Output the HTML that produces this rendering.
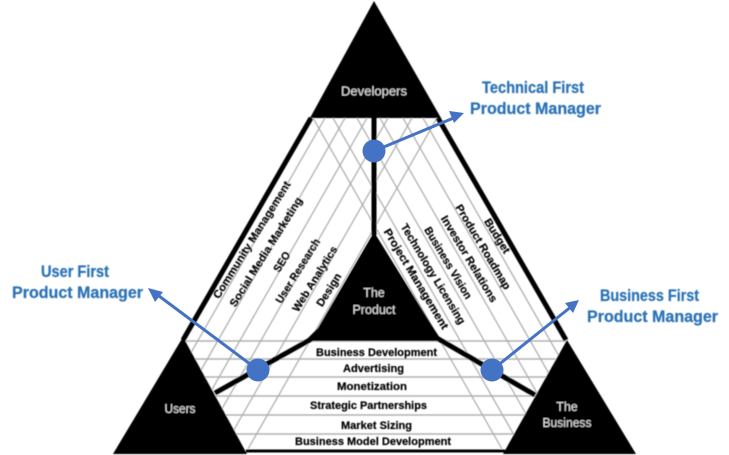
<!DOCTYPE html>
<html><head><meta charset="utf-8"><style>
html,body{margin:0;padding:0;background:#fff;width:729px;height:455px;overflow:hidden}
svg{display:block}
text{font-family:"Liberation Sans",sans-serif}
.k{font-weight:bold;font-size:11px;fill:#000;stroke:#000;stroke-width:.2;text-anchor:middle}
.w{font-size:12.5px;fill:#ddd;text-anchor:middle}
.b{font-weight:bold;font-size:16.5px;fill:#2a72b5;stroke:#2a72b5;stroke-width:.25}
</style></head><body>
<svg width="729" height="455" viewBox="0 0 729 455" xmlns="http://www.w3.org/2000/svg">
<defs><filter id="s" x="-5%" y="-5%" width="110%" height="110%"><feGaussianBlur stdDeviation="0.4"/></filter></defs>
<g filter="url(#s)">
<g stroke="#aaa" stroke-width="1.2" fill="none">
<line x1="325" y1="118" x2="136" y2="449"/>
<line x1="345" y1="118" x2="156" y2="449"/>
<line x1="367" y1="118" x2="178" y2="449"/>
<line x1="388" y1="118" x2="199" y2="449"/>
<line x1="412" y1="118" x2="223" y2="449"/>
<line x1="437" y1="118" x2="248" y2="449"/>
<line x1="313" y1="118" x2="502" y2="449"/>
<line x1="333" y1="118" x2="522" y2="449"/>
<line x1="357" y1="118" x2="546" y2="449"/>
<line x1="380" y1="118" x2="569" y2="449"/>
<line x1="403" y1="118" x2="592" y2="449"/>
<line x1="423" y1="118" x2="612" y2="449"/>
<g stroke="#b0b0b0" stroke-width="1.4">
<line x1="183" y1="341" x2="566" y2="341"/>
<line x1="190" y1="359" x2="560" y2="359"/>
<line x1="200" y1="377" x2="550" y2="377"/>
<line x1="205" y1="396" x2="540" y2="396"/>
<line x1="220" y1="415" x2="530" y2="415"/>
<line x1="230" y1="434" x2="515" y2="434"/>
</g>
</g>
<g stroke="#000" fill="none">
<line x1="311" y1="118" x2="183" y2="340" stroke-width="5"/>
<line x1="438" y1="118" x2="566" y2="340" stroke-width="5"/>
<line x1="374" y1="118" x2="374" y2="235" stroke-width="5"/>
<line x1="246" y1="451" x2="505" y2="451" stroke-width="3"/>
<line x1="315" y1="337" x2="215" y2="393" stroke-width="5"/>
<line x1="435" y1="337" x2="535" y2="395" stroke-width="5"/>
</g>
<polygon points="374,1 441,118 310,118" fill="#000"/>
<polygon points="374,232 436,332 442,341 305,341 318,328" fill="#000"/>
<polygon points="183,337 247,454 113,454" fill="#000"/>
<polygon points="567,340 636,454 503,454" fill="#000"/>
<text class="w" x="374" y="95.500" textLength="66" lengthAdjust="spacingAndGlyphs">Developers</text>
<text class="w" x="374" y="297">The</text>
<text class="w" x="374" y="314">Product</text>
<text class="w" x="180" y="413" textLength="31" lengthAdjust="spacingAndGlyphs">Users</text>
<text class="w" x="567" y="411">The</text>
<text class="w" x="567" y="427" textLength="49" lengthAdjust="spacingAndGlyphs">Business</text>
<g>
<text class="k" transform="translate(252,240) rotate(-58)" y="3.5" textLength="136" lengthAdjust="spacingAndGlyphs">Community Management</text>
<text class="k" transform="translate(266,252) rotate(-58)" y="3.5" textLength="127" lengthAdjust="spacingAndGlyphs">Social Media Marketing</text>
<text class="k" transform="translate(282,262) rotate(-58)" y="3.5" textLength="22" lengthAdjust="spacingAndGlyphs">SEO</text>
<text class="k" transform="translate(298,271) rotate(-58)" y="3.5" textLength="74" lengthAdjust="spacingAndGlyphs">User Research</text>
<text class="k" transform="translate(315,279) rotate(-58)" y="3.5" textLength="75" lengthAdjust="spacingAndGlyphs">Web Analytics</text>
<text class="k" transform="translate(329,290) rotate(-58)" y="3.5" textLength="37" lengthAdjust="spacingAndGlyphs">Design</text>
<text class="k" transform="translate(497,236) rotate(58)" y="3.5" textLength="39" lengthAdjust="spacingAndGlyphs">Budget</text>
<text class="k" transform="translate(483,247) rotate(59)" y="3.5" textLength="97" lengthAdjust="spacingAndGlyphs">Product Roadmap</text>
<text class="k" transform="translate(469,259) rotate(59)" y="3.5" textLength="99" lengthAdjust="spacingAndGlyphs">Investor Relations</text>
<text class="k" transform="translate(448,263) rotate(59)" y="3.5" textLength="82" lengthAdjust="spacingAndGlyphs">Business Vision</text>
<text class="k" transform="translate(433,274) rotate(59)" y="3.5" textLength="115" lengthAdjust="spacingAndGlyphs">Technology Licensing</text>
<text class="k" transform="translate(416,279) rotate(59)" y="3.5" textLength="115" lengthAdjust="spacingAndGlyphs">Project Management</text>
</g>
<text class="k" x="376.500" y="356" textLength="121" lengthAdjust="spacingAndGlyphs">Business Development</text>
<text class="k" x="373.500" y="372" textLength="61" lengthAdjust="spacingAndGlyphs">Advertising</text>
<text class="k" x="372" y="390" textLength="70" lengthAdjust="spacingAndGlyphs">Monetization</text>
<text class="k" x="368.500" y="409" textLength="117" lengthAdjust="spacingAndGlyphs">Strategic Partnerships</text>
<text class="k" x="376.500" y="429" textLength="71" lengthAdjust="spacingAndGlyphs">Market Sizing</text>
<text class="k" x="373" y="445" textLength="156" lengthAdjust="spacingAndGlyphs">Business Model Development</text>
</g>
<g stroke="#4472c4" stroke-width="3" fill="#4472c4">
<line x1="374" y1="151" x2="456" y2="117"/>
<polygon points="464,113 449,111 454,123" stroke="none"/>
<line x1="258" y1="370" x2="155" y2="293"/>
<polygon points="148,288 163,292 155,302" stroke="none"/>
<line x1="492" y1="370" x2="572" y2="306"/>
<polygon points="579,300 565,303 573,313" stroke="none"/>
<circle cx="374" cy="151" r="11.500" stroke="none"/>
<circle cx="258" cy="370" r="11.500" stroke="none"/>
<circle cx="492" cy="370" r="11.500" stroke="none"/>
</g>
<g filter="url(#s)">
<text class="b" x="482" y="93" textLength="102" lengthAdjust="spacingAndGlyphs">Technical First</text>
<text class="b" x="470" y="114" textLength="131" lengthAdjust="spacingAndGlyphs">Product Manager</text>
<text class="b" x="41" y="277" textLength="68" lengthAdjust="spacingAndGlyphs">User First</text>
<text class="b" x="12" y="298" textLength="131" lengthAdjust="spacingAndGlyphs">Product Manager</text>
<text class="b" x="600" y="301" textLength="99" lengthAdjust="spacingAndGlyphs">Business First</text>
<text class="b" x="587" y="322" textLength="131" lengthAdjust="spacingAndGlyphs">Product Manager</text>
</g>
</svg>
</body></html>
